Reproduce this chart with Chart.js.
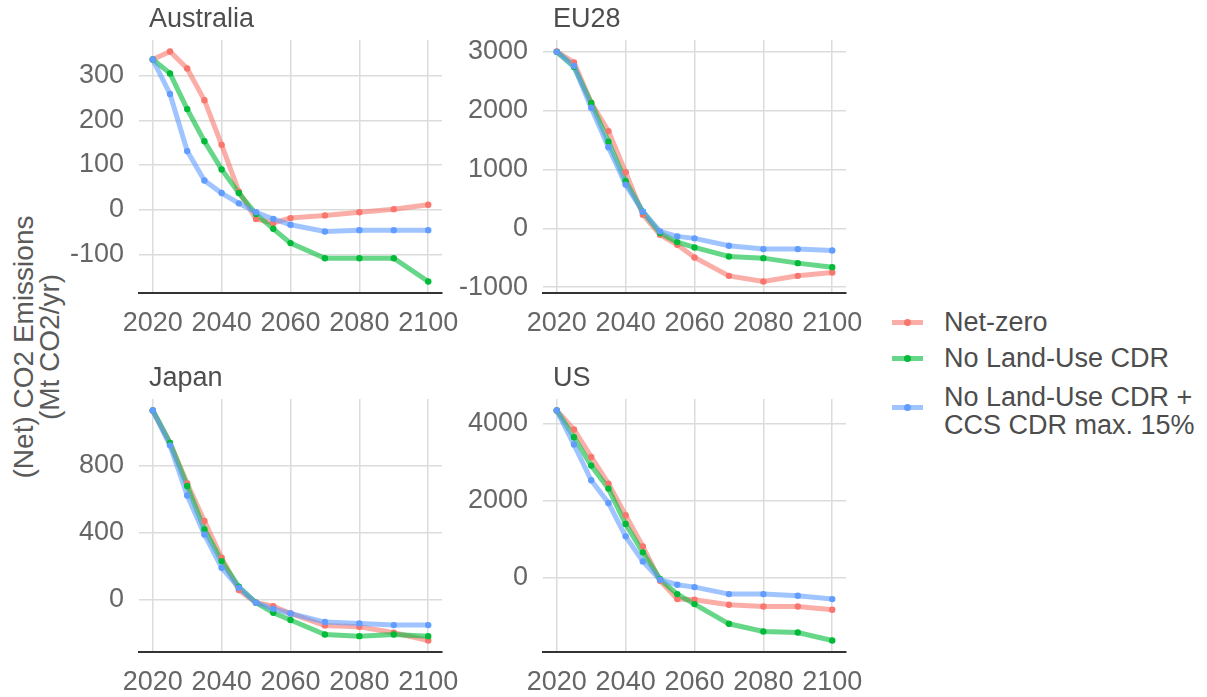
<!DOCTYPE html>
<html>
<head>
<meta charset="utf-8">
<script src="https://cdn.jsdelivr.net/npm/chart.js@4.4.0/dist/chart.umd.min.js"></script>
<style>
  body { margin: 0; background: #fff; width: 1207px; height: 697px; position: relative; overflow: hidden;
         font-family: "Liberation Sans", Arial, sans-serif; }
  .panel { position: absolute; }
  .strip { position: absolute; font-size: 27px; line-height: 27px; color: #4d4d4d; white-space: nowrap; }
  .ytitle { position: absolute; left: 37px; top: 347px; width: 340px; margin-left: -170px; margin-top: -26px;
            transform: rotate(-90deg); text-align: center; font-size: 28px; line-height: 26px; color: #5a5a5a; }
  .legend { position: absolute; left: 892px; top: 306px; color: #4d4d4d; font-size: 27px; line-height: 28px; }
  .key { position: absolute; left: 0; width: 31px; height: 5px; }
  .key span { position: absolute; left: 12px; top: -1px; width: 7px; height: 7px; border-radius: 50%; }
  .lab { position: absolute; left: 52px; white-space: nowrap; }
</style>
</head>
<body>

<div class="ytitle">(Net) CO2 Emissions<br>(Mt CO2/yr)</div>

<div class="legend">
  <div class="key" style="top:14px;background:rgba(248,118,109,0.6)"><span style="background:#F8766D"></span></div>
  <div class="lab" style="top:2px">Net-zero</div>
  <div class="key" style="top:50px;background:rgba(0,186,56,0.6)"><span style="background:#00BA38"></span></div>
  <div class="lab" style="top:38px">No Land-Use CDR</div>
  <div class="key" style="top:99px;background:rgba(97,156,255,0.6)"><span style="background:#619CFF"></span></div>
  <div class="lab" style="top:77px">No Land-Use CDR +<br>CCS CDR max. 15%</div>
</div>

<script>
// model years (x axis)
const years = [2020, 2025, 2030, 2035, 2040, 2045, 2050, 2055, 2060, 2070, 2080, 2090, 2100];
const xTicks = [2020, 2040, 2060, 2080, 2100];

const scenarioNames = ["Net-zero", "No Land-Use CDR", "No Land-Use CDR + CCS CDR max. 15%"];

// Australia
const ausNetZero   = [336, 354, 316, 245, 145, 40, -21, -30, -19, -13, -6, 1, 11];
const ausNoLand    = [336, 305, 225, 153, 90, 37, -10, -43, -75, -109, -109, -109, -161];
const ausNoLandCcs = [336, 259, 131, 65, 37, 14, -6, -21, -34, -49, -46, -46, -46];
const ausTicks = [-100, 0, 100, 200, 300];

// EU28
const euNetZero   = [3006, 2818, 2136, 1653, 955, 233, -108, -278, -494, -807, -903, -807, -750];
const euNoLand    = [3000, 2744, 2130, 1472, 801, 284, -80, -233, -324, -477, -506, -591, -659];
const euNoLandCcs = [3000, 2760, 2051, 1380, 744, 284, -51, -136, -170, -295, -352, -352, -375];
const euTicks = [-1000, 0, 1000, 2000, 3000];

// Japan
const jpNetZero   = [1128, 935, 692, 468, 249, 56, -20, -40, -84, -155, -163, -199, -245];
const jpNoLand    = [1128, 935, 677, 418, 229, 76, -20, -80, -123, -209, -219, -209, -219];
const jpNoLandCcs = [1128, 920, 621, 388, 189, 70, -20, -56, -84, -135, -143, -153, -153];
const jpTicks = [0, 400, 800];

// US
const usNetZero   = [4338, 3843, 3132, 2438, 1614, 807, -87, -564, -581, -711, -755, -755, -842];
const usNoLand    = [4338, 3644, 2906, 2308, 1388, 651, -43, -434, -694, -1206, -1406, -1432, -1640];
const usNoLandCcs = [4338, 3453, 2525, 1935, 1067, 416, -61, -191, -252, -434, -434, -477, -564];
const usTicks = [0, 2000, 4000];

const colors = ["#F8766D", "#00BA38", "#619CFF"];
const lineColors = ["rgba(248,118,109,0.6)", "rgba(0,186,56,0.6)", "rgba(97,156,255,0.6)"];

// ggplot style 5% expansion of the data range
function padRange(series) {
  const all = [].concat(...series);
  const lo = Math.min(...all), hi = Math.max(...all);
  const pad = (hi - lo) * 0.05;
  return [lo - pad, hi + pad];
}

const YW = 100, PT = 10, PR = 40, XH = 45;
const PLOT_W = 303, PLOT_H = 253;

function makePanel(title, plotLeft, plotTop, series, yTicks) {
  const box = document.createElement("div");
  box.className = "panel";
  box.style.left = (plotLeft - YW) + "px";
  box.style.top = (plotTop - PT) + "px";
  const canvas = document.createElement("canvas");
  canvas.width = YW + PLOT_W + PR;
  canvas.height = PT + PLOT_H + XH;
  box.appendChild(canvas);
  document.body.appendChild(box);

  const strip = document.createElement("div");
  strip.className = "strip";
  strip.textContent = title;
  strip.style.left = (plotLeft + 10) + "px";
  strip.style.top = (plotTop - 35) + "px";
  document.body.appendChild(strip);

  const [yMin, yMax] = padRange(series);
  const datasets = [];
  // lines first (drawn below), points on top, later scenario over earlier
  series.forEach((vals, i) => {
    const pts = years.map((yr, j) => ({ x: yr, y: vals[j] }));
    datasets.push({
      label: scenarioNames[i],
      data: pts,
      borderColor: lineColors[i],
      borderWidth: 5,
      pointRadius: 0,
      tension: 0,
      order: 5 - i
    });
    datasets.push({
      label: scenarioNames[i] + " points",
      data: pts,
      showLine: false,
      pointRadius: 3.2,
      pointBorderWidth: 0,
      pointBackgroundColor: colors[i],
      order: 2 - i
    });
  });

  new Chart(canvas.getContext("2d"), {
    type: "line",
    data: { datasets: datasets },
    options: {
      responsive: false,
      animation: false,
      devicePixelRatio: 1,
      layout: { padding: { left: 0, top: PT, right: PR, bottom: 0 } },
      plugins: { legend: { display: false }, tooltip: { enabled: false } },
      scales: {
        x: {
          type: "linear",
          min: 2016,
          max: 2104,
          afterBuildTicks: s => { s.ticks = xTicks.map(v => ({ value: v })); },
          afterFit: s => { s.height = XH; s.paddingLeft = 0; s.paddingRight = 0; },
          grid: { color: "#dcdcdc", lineWidth: 1.5, drawTicks: false },
          border: { display: true, color: "#333", width: 2 },
          ticks: {
            autoSkip: false, maxRotation: 0, padding: 14,
            color: "#666", font: { size: 27, family: "Liberation Sans" },
            callback: v => String(v)
          }
        },
        y: {
          min: yMin,
          max: yMax,
          afterBuildTicks: s => { s.ticks = yTicks.map(v => ({ value: v })); },
          afterFit: s => { s.width = YW; s.paddingTop = 0; s.paddingBottom = 0; },
          grid: { color: "#dcdcdc", lineWidth: 1.5, drawTicks: false },
          border: { display: false },
          ticks: {
            padding: 15,
            color: "#666", font: { size: 27, family: "Liberation Sans" },
            callback: v => String(v)
          }
        }
      }
    }
  });
}

makePanel("Australia", 139, 40, [ausNetZero, ausNoLand, ausNoLandCcs], ausTicks);
makePanel("EU28", 543, 40, [euNetZero, euNoLand, euNoLandCcs], euTicks);
makePanel("Japan", 139, 399, [jpNetZero, jpNoLand, jpNoLandCcs], jpTicks);
makePanel("US", 543, 399, [usNetZero, usNoLand, usNoLandCcs], usTicks);
</script>
</body>
</html>
